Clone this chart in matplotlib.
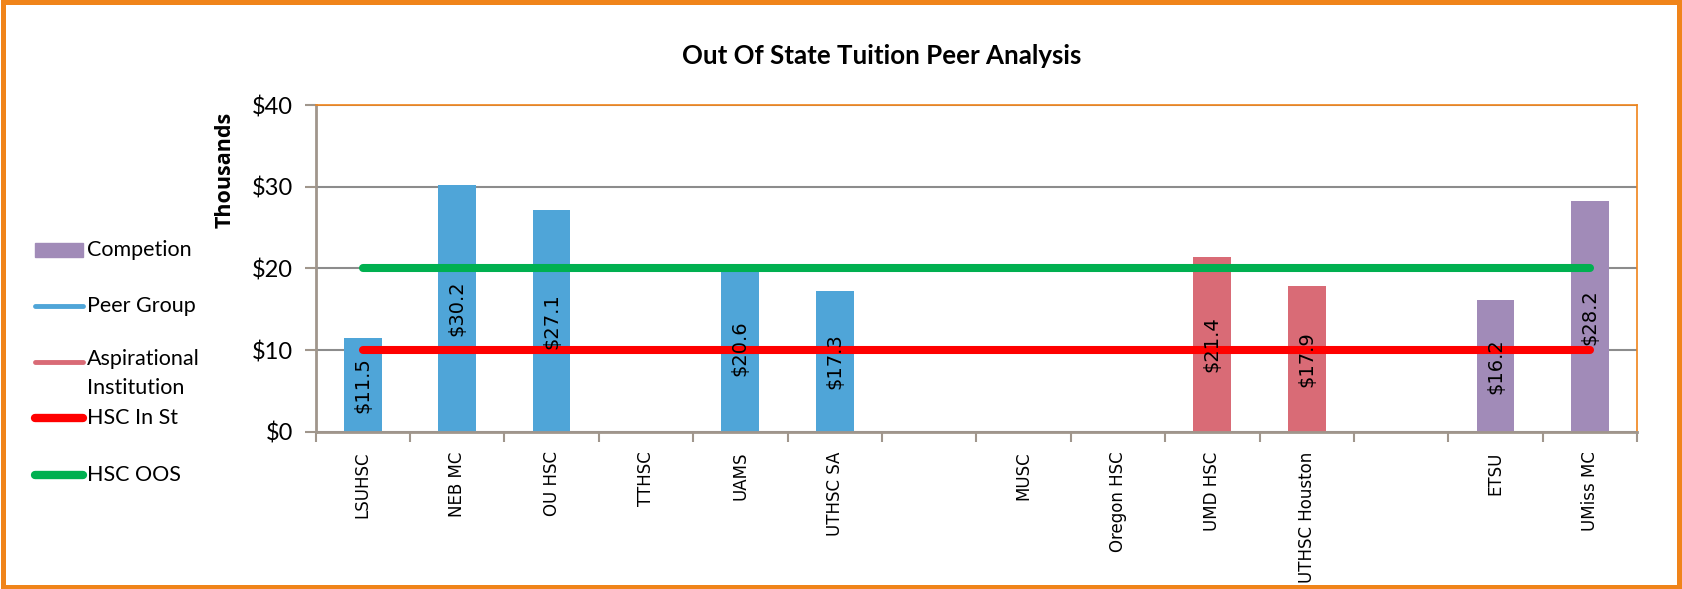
import numpy as np
import matplotlib
matplotlib.use('Agg')
import matplotlib.pyplot as plt
from matplotlib.lines import Line2D
from matplotlib.patches import Rectangle

#Chart data (thousands of dollars), blanks are spacer slots
schools = ['LSUHSC', 'NEB MC', 'OU HSC', 'TTHSC', 'UAMS', 'UTHSC SA', '',
           'MUSC', 'Oregon HSC', 'UMD HSC', 'UTHSC Houston', '', 'ETSU', 'UMiss MC']
tuition = [11.5, 30.2, 27.1, None, 20.6, 17.3, None,
           None, None, 21.4, 17.9, None, 16.2, 28.2]
groups = ['peer', 'peer', 'peer', 'peer', 'peer', 'peer', '',
          'asp', 'asp', 'asp', 'asp', '', 'comp', 'comp']
hscInState = 10
hscOOS = 20
yticks = [0, 10, 20, 30, 40]

groupColors = {'peer': '#4FA5D8', 'asp': '#D96B76', 'comp': '#A18BB8', '': 'white'}
orange = '#F0841A'
axisGrey = '#A0968C'

fig = plt.figure(figsize=(16.82, 5.89), dpi=100)
ax = fig.add_axes([0.1876, 0.2666, 0.7857, 0.5551])

x = np.arange(len(schools))

#Bars and labels inside them
for i, val in enumerate(tuition):
    if val is None:
        continue
    ax.bar(x[i], val, width=0.4, color=groupColors[groups[i]], zorder=2)
    ax.text(x[i], val / 2, f'${val}', rotation=90, ha='center', va='center',
            fontsize=14, family='DejaVu Sans', zorder=4)

#Reference lines for HSC tuition
ax.plot([x[0], x[-1]], [hscInState, hscInState], color='#FF0000', lw=5.8,
        solid_capstyle='round', zorder=3)
ax.plot([x[0], x[-1]], [hscOOS, hscOOS], color='#00B050', lw=5.8,
        solid_capstyle='round', zorder=3)

ax.set_xlim(-0.5, len(schools) - 0.5)
ax.set_ylim(0, 40)

#Y axis
ax.set_yticks(yticks)
ax.set_yticklabels([f'${t}' for t in yticks], family='Lato', fontsize=17)
ax.tick_params(axis='y', length=8, width=1.5, color=axisGrey, pad=8)
ax.grid(axis='y', color='#8C8C8C', lw=1.5, zorder=0)

#X axis: boundary ticks, labels on category centres
ax.set_xticks(np.arange(-0.5, len(schools), 1.0))
ax.set_xticklabels([])
ax.tick_params(axis='x', which='major', length=7, width=1.5, color=axisGrey)
ax.set_xticks(x, minor=True)
ax.set_xticklabels(schools, minor=True, rotation=90, fontsize=12, family='DejaVu Sans', va='top')
ax.tick_params(axis='x', which='minor', length=0, pad=14)

for side in ['left', 'bottom']:
    ax.spines[side].set_color(axisGrey)
    ax.spines[side].set_linewidth(2)
for side in ['top', 'right']:
    ax.spines[side].set_color(orange)
    ax.spines[side].set_linewidth(1.2)

fig.text(0.524, 0.905, 'Out Of State Tuition Peer Analysis', ha='center', va='center',
         fontsize=18.6, fontweight='bold', family='Lato')
fig.text(0.1338, 0.711, 'Thousands', rotation=90, ha='center', va='center',
         fontsize=15.5, fontweight='bold', family='Open Sans')

#Legend on the left, drawn by hand so the two-line entry lines up
legendLabels = ['Competion', 'Peer Group', 'Aspirational\nInstitution', 'HSC In St', 'HSC OOS']
legendColors = ['#A18BB8', '#4FA5D8', '#D96B76', '#FF0000', '#00B050']
legendWidths = [0, 3.5, 3.5, 6, 6]
legendY = [250, 306, 362, 418, 475]
for lab, col, lw, yy in zip(legendLabels, legendColors, legendWidths, legendY):
    yf = 1 - yy / 589
    if lw == 0:
        fig.add_artist(Rectangle((35 / 1682, yf - 7 / 589), 48 / 1682, 14 / 589,
                                 transform=fig.transFigure, color=col))
    else:
        fig.add_artist(Line2D([35 / 1682, 83 / 1682], [yf, yf], transform=fig.transFigure,
                              color=col, lw=lw, solid_capstyle='round'))
    if '\n' in lab:
        fig.text(87 / 1682, yf + 13 / 589, lab, ha='left', va='top', fontsize=15.5,
                 family='Lato', linespacing=1.55)
    else:
        fig.text(87 / 1682, yf, lab, ha='left', va='center', fontsize=15.5, family='Lato')

#Orange chart border
fig.add_artist(Rectangle((0.0015, 0.004), 0.997, 0.992, transform=fig.transFigure,
                         fill=False, edgecolor=orange, lw=3.6))

plt.savefig('out.png', dpi=100, facecolor='white')
